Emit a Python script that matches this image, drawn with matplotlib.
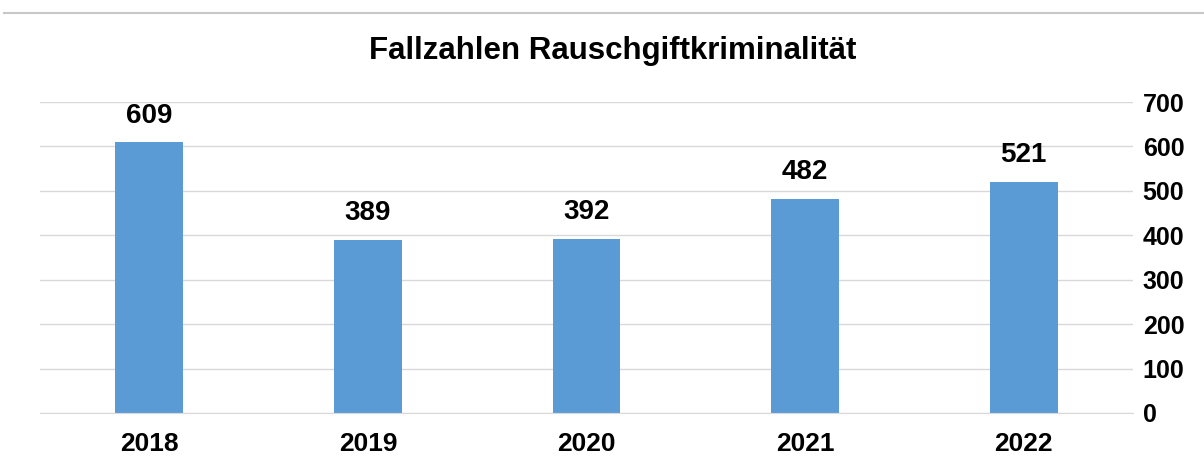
import matplotlib
matplotlib.use("Agg")
import matplotlib.pyplot as plt
from matplotlib.lines import Line2D

years = ["2018", "2019", "2020", "2021", "2022"]
cases = [609, 389, 392, 482, 521]
yticks = [0, 100, 200, 300, 400, 500, 600, 700]
title = "Fallzahlen Rauschgiftkriminalität"

plt.rcParams['font.family'] = ['Liberation Sans', 'DejaVu Sans']

fig = plt.figure(figsize=(12.04, 4.57), dpi=100)
ax = fig.add_axes([40/1204, 1-413/457, (1133-40)/1204, (413-102)/457])

x = list(range(len(years)))
bars = ax.bar(x, cases, width=0.31, color="#5B9BD5", zorder=3)
ax.set_xlim(-0.5, len(years)-0.5)
ax.set_ylim(0, 700)
ax.set_yticks(yticks)
ax.set_yticklabels([str(t) for t in yticks], fontsize=18, fontweight='bold')
ax.yaxis.tick_right()
ax.tick_params(axis='y', length=0, pad=7)
ax.set_xticks(x)
ax.set_xticklabels(years, fontsize=19, fontweight='bold')
ax.tick_params(axis='x', length=0, pad=14)
ax.grid(axis='y', color='#D9D9D9', linewidth=1, zorder=0)
for s in ['top', 'right', 'left']:
    ax.spines[s].set_visible(False)
ax.spines['bottom'].set_color('#D9D9D9')
ax.spines['bottom'].set_zorder(4)

for xi, v in zip(x, cases):
    ax.annotate(str(v), (xi, v), xytext=(0, 10), textcoords='offset points',
                ha='center', va='bottom', fontsize=20, fontweight='bold')

fig.text(613/1204, 1-51/457, title, ha='center', va='center', fontsize=22.5, fontweight='bold')
fig.add_artist(Line2D([4/1204, 1], [1-13/457, 1-13/457], color='#C8C8C8', linewidth=1.5, transform=fig.transFigure))

fig.savefig("out.png", dpi=100)
